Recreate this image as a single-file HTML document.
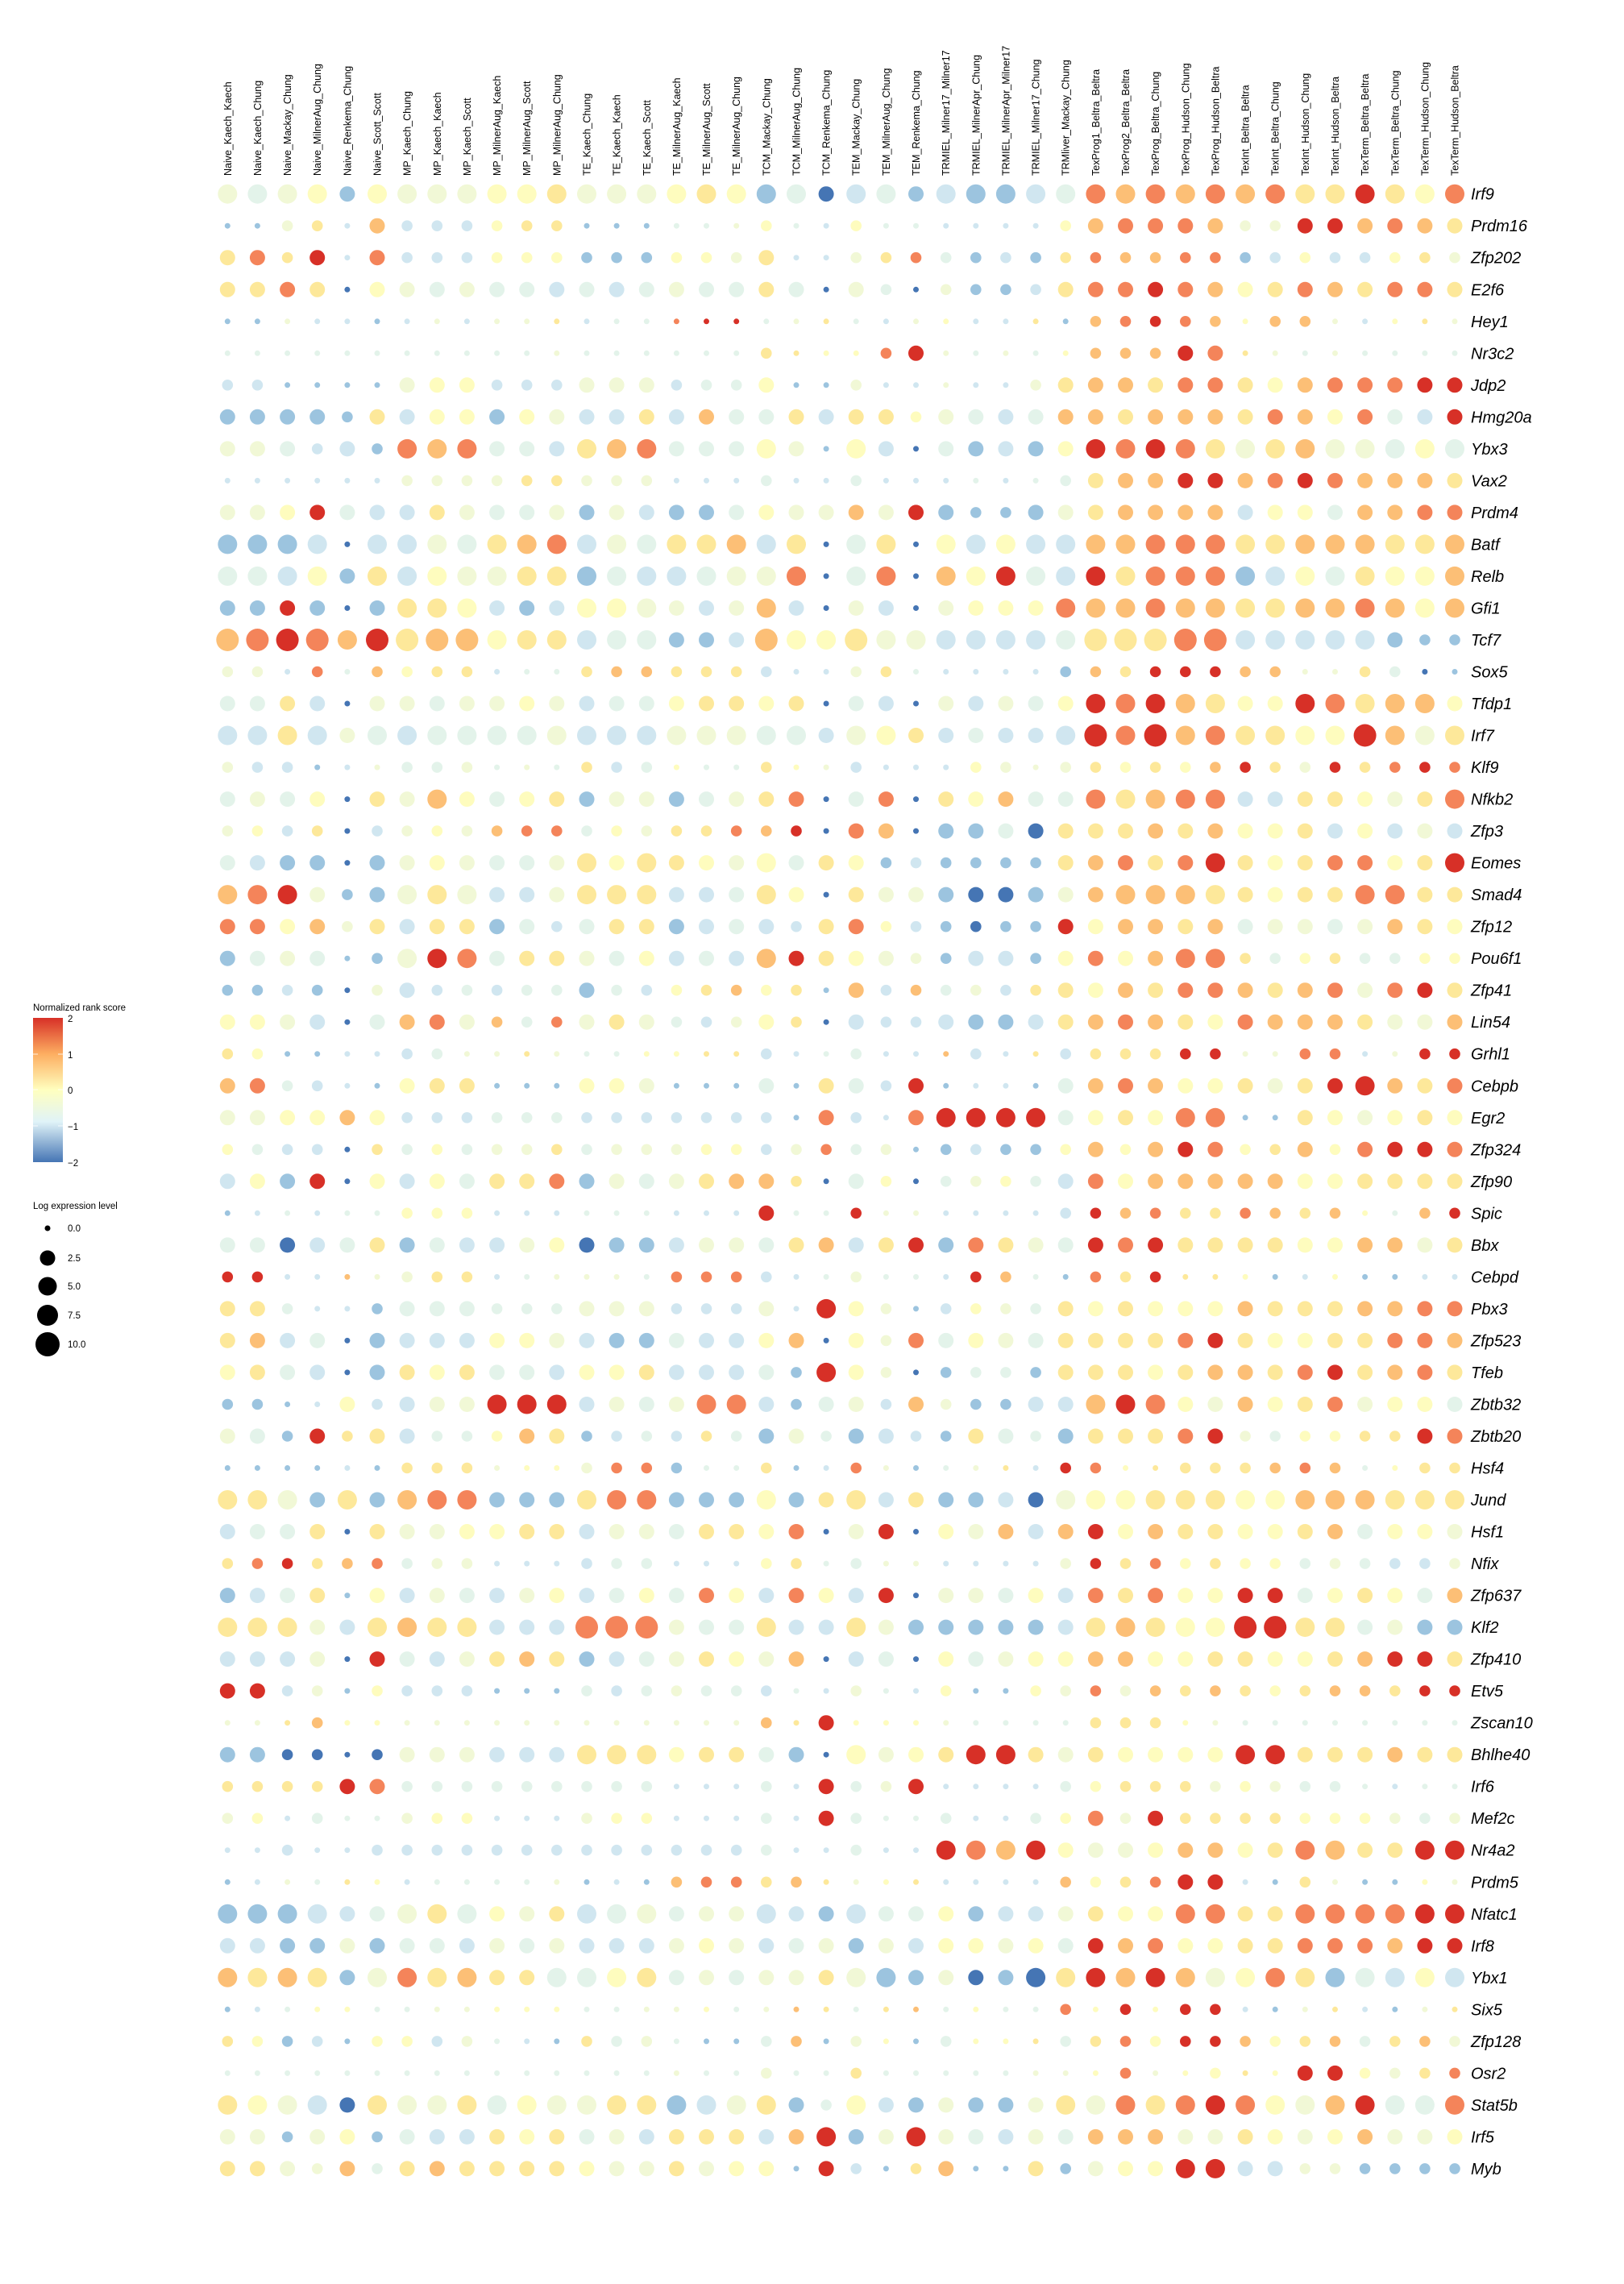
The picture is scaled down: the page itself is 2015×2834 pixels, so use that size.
<!DOCTYPE html>
<html><head><meta charset="utf-8"><style>
html,body{margin:0;padding:0;background:#fff;}
svg{display:block;}
</style></head><body>
<svg id="s" xmlns="http://www.w3.org/2000/svg" width="2015" height="2834" viewBox="0 0 2015 2834">
<rect width="2015" height="2834" fill="#fff"/>
<defs><linearGradient id="cg" x1="0" y1="0" x2="0" y2="1">
<stop offset="0" stop-color="#d73027"/><stop offset="0.25" stop-color="#fdae61"/><stop offset="0.5" stop-color="#ffffbf"/><stop offset="0.72" stop-color="#e0f3f8"/><stop offset="1" stop-color="#4575b4"/></linearGradient></defs>
<g font-family="Liberation Sans, Arial, sans-serif" fill="#000">
<text x="41" y="1254" font-size="11.5">Normalized rank score</text>
<rect x="41" y="1263" width="37" height="179" fill="url(#cg)"/>
<g stroke="#fff" stroke-width="1" opacity="0.8">
<line x1="41" x2="47" y1="1308" y2="1308"/><line x1="72" x2="78" y1="1308" y2="1308"/>
<line x1="41" x2="47" y1="1352" y2="1352"/><line x1="72" x2="78" y1="1352" y2="1352"/>
<line x1="41" x2="47" y1="1397" y2="1397"/><line x1="72" x2="78" y1="1397" y2="1397"/>
</g>
<g font-size="11.5">
<text x="84" y="1268">2</text><text x="84" y="1313">1</text><text x="84" y="1357">0</text><text x="84" y="1402">−1</text><text x="84" y="1447">−2</text>
<text x="41" y="1500">Log expression level</text>
<circle cx="59" cy="1524" r="3.5"/><text x="84" y="1528">0.0</text>
<circle cx="59" cy="1561" r="9.5"/><text x="84" y="1565">2.5</text>
<circle cx="59" cy="1596" r="11.5"/><text x="84" y="1600">5.0</text>
<circle cx="59" cy="1632" r="13"/><text x="84" y="1636">7.5</text>
<circle cx="59" cy="1668" r="15"/><text x="84" y="1672">10.0</text>
</g>
<g id="cols" font-size="12.5"></g>
<g id="dots"></g>
<g id="genes" font-size="20" font-style="italic"></g>
</g>
</svg>
<script>
var cols=["Naive_Kaech_Kaech","Naive_Kaech_Chung","Naive_Mackay_Chung","Naive_MilnerAug_Chung","Naive_Renkema_Chung","Naive_Scott_Scott","MP_Kaech_Chung","MP_Kaech_Kaech","MP_Kaech_Scott","MP_MilnerAug_Kaech","MP_MilnerAug_Scott","MP_MilnerAug_Chung","TE_Kaech_Chung","TE_Kaech_Kaech","TE_Kaech_Scott","TE_MilnerAug_Kaech","TE_MilnerAug_Scott","TE_MilnerAug_Chung","TCM_Mackay_Chung","TCM_MilnerAug_Chung","TCM_Renkema_Chung","TEM_Mackay_Chung","TEM_MilnerAug_Chung","TEM_Renkema_Chung","TRMIEL_Milner17_Milner17","TRMIEL_MilnerApr_Chung","TRMIEL_MilnerApr_Milner17","TRMIEL_Milner17_Chung","TRMliver_Mackay_Chung","TexProg1_Beltra_Beltra","TexProg2_Beltra_Beltra","TexProg_Beltra_Chung","TexProg_Hudson_Chung","TexProg_Hudson_Beltra","TexInt_Beltra_Beltra","TexInt_Beltra_Chung","TexInt_Hudson_Chung","TexInt_Hudson_Beltra","TexTerm_Beltra_Beltra","TexTerm_Beltra_Chung","TexTerm_Hudson_Chung","TexTerm_Hudson_Beltra"];
var genes=["Irf9","Prdm16","Zfp202","E2f6","Hey1","Nr3c2","Jdp2","Hmg20a","Ybx3","Vax2","Prdm4","Batf","Relb","Gfi1","Tcf7","Sox5","Tfdp1","Irf7","Klf9","Nfkb2","Zfp3","Eomes","Smad4","Zfp12","Pou6f1","Zfp41","Lin54","Grhl1","Cebpb","Egr2","Zfp324","Zfp90","Spic","Bbx","Cebpd","Pbx3","Zfp523","Tfeb","Zbtb32","Zbtb20","Hsf4","Jund","Hsf1","Nfix","Zfp637","Klf2","Zfp410","Etv5","Zscan10","Bhlhe40","Irf6","Mef2c","Nr4a2","Prdm5","Nfatc1","Irf8","Ybx1","Six5","Zfp128","Osr2","Stat5b","Irf5","Myb"];
var D=[
"w4 g4 w4 y4 b3 y4 w4 w4 w4 y4 y4 Y4 w4 w4 w4 y4 Y4 y4 b4 g4 B3 c4 g4 b3 c4 b4 b4 c4 g4 O4 o4 O4 o4 O4 o4 O4 Y4 Y4 R4 Y4 y4 O4",
"b1 b1 w2 Y2 c1 o3 c2 c2 c2 y2 Y2 Y2 b1 b1 b1 g1 g1 w1 y2 g1 c1 y2 g1 g1 c1 c1 c1 c1 y2 o3 O3 O3 O3 o3 w2 w2 R3 R3 o3 O3 o3 Y3",
"Y3 O3 Y2 R3 c1 O3 c2 c2 c2 y2 y2 y2 b2 b2 b2 y2 y2 w2 Y3 c1 c1 w2 Y2 O2 g2 b2 c2 b2 Y2 O2 o2 o2 O2 O2 b2 c2 y2 c2 c2 y2 Y2 w2",
"Y3 Y3 O3 Y3 B1 y3 w3 g3 w3 g3 g3 c3 g3 c3 g3 w3 g3 g3 Y3 g3 B1 w3 g2 B1 w2 b2 b2 c2 Y3 O3 O3 R3 O3 o3 y3 Y3 O3 o3 Y3 O3 O3 Y3",
"b1 b1 w1 c1 c1 b1 c1 w1 c1 w1 w1 Y1 c1 g1 g1 O1 R1 R1 g1 w1 Y1 g1 c1 w1 y1 c1 c1 Y1 b1 o2 O2 R2 O2 o2 y1 o2 o2 w1 c1 y1 Y1 w1",
"g1 g1 g1 g1 g1 g1 g1 g1 g1 g1 g1 w1 g1 g1 g1 g1 g1 g1 Y2 Y1 y1 y1 O2 R3 w1 g1 w1 g1 y1 o2 o2 o2 R3 O3 Y1 w1 g1 w1 g1 g1 g1 g1",
"c2 c2 b1 b1 b1 b1 w3 y3 y3 c2 c2 c2 w3 w3 w3 c2 g2 g2 y3 b1 b1 w2 c1 c1 w1 c1 c1 w2 Y3 o3 o3 Y3 O3 O3 Y3 y3 o3 O3 O3 O3 R3 R3",
"b3 b3 b3 b3 b2 Y3 c3 y3 y3 b3 y3 w3 c3 c3 Y3 c3 o3 g3 g3 Y3 c3 Y3 Y3 y2 w3 g3 c3 g3 o3 o3 Y3 o3 o3 o3 Y3 O3 o3 y3 O3 g3 c3 R3",
"w3 w3 g3 c2 c3 b2 O4 o4 O4 g3 g3 c3 Y4 o4 O4 g3 g3 g3 y4 w3 b1 y4 c3 B1 g3 b3 c3 b3 y3 R4 O4 R4 O4 Y4 w4 Y4 o4 w4 w4 g4 y4 g4",
"c1 c1 c1 c1 c1 c1 w2 w2 w2 w2 Y2 Y2 w2 w2 w2 c1 c1 c1 g2 c1 c1 g2 c1 c1 c1 g1 c1 g1 g2 Y3 o3 o3 R3 R3 o3 O3 R3 O3 o3 o3 o3 Y3",
"w3 w3 y3 R3 g3 c3 c3 Y3 w3 g3 g3 w3 b3 w3 c3 b3 b3 g3 y3 w3 w3 o3 w3 R3 b3 b2 b2 b3 w3 Y3 o3 o3 o3 o3 c3 y3 y3 g3 o3 o3 O3 O3",
"b4 b4 b4 c4 B1 c4 c4 w4 g4 Y4 o4 O4 c4 w4 g4 Y4 Y4 o4 c4 Y4 B1 g4 Y4 B1 y4 c4 y4 c4 c4 o4 o4 O4 O4 O4 Y4 Y4 o4 o4 o4 Y4 Y4 o4",
"g4 g4 c4 y4 b3 Y4 c4 y4 w4 w4 Y4 Y4 b4 g4 c4 c4 g4 w4 w4 O4 B1 g4 O4 B1 o4 y4 R4 g4 c4 R4 Y4 O4 O4 O4 b4 c4 y4 g4 Y4 y4 y4 o4",
"b3 b3 R3 b3 B1 b3 Y4 Y4 y4 c3 b3 c3 y4 y4 w4 w3 c3 w3 o4 c3 B1 w3 c3 B1 w3 y3 y3 y3 O4 o4 o4 O4 o4 o4 Y4 Y4 o4 o4 O4 o4 y4 o4",
"o5 O5 R5 O5 o4 R5 Y5 o5 o5 y4 Y4 Y4 c4 g4 g4 b3 b3 c3 o5 y4 y4 Y5 w4 w4 c4 c4 c4 c4 g4 Y5 Y5 Y5 O5 O5 c4 c4 c4 c4 c4 b3 b2 b2",
"w2 w2 c1 O2 g1 o2 y2 Y2 Y2 c1 g1 g1 Y2 o2 o2 Y2 Y2 Y2 c2 c1 c1 w2 Y2 g1 c1 c1 c1 c1 b2 o2 Y2 R2 R2 R2 o2 o2 w1 w1 Y2 g2 B1 b1",
"g3 g3 Y3 c3 B1 w3 w3 g3 w3 w3 y3 w3 c3 g3 g3 y3 Y3 Y3 y3 Y3 B1 g3 c3 B1 w3 c3 w3 g3 y3 R4 O4 R4 o4 Y4 y3 y3 R4 O4 Y4 o4 o4 y3",
"c4 c4 Y4 c4 w3 g4 c4 g4 g4 g4 g4 w4 c4 c4 c4 w4 w4 w4 g4 g4 c3 w4 y4 Y3 c3 g3 c3 c3 c4 R5 O4 R5 o4 O4 Y4 Y4 y4 y4 R5 o4 w4 Y4",
"w2 c2 c2 b1 c1 w1 g2 g2 w2 g1 w1 g1 Y2 c2 g2 y1 g1 g1 Y2 y1 w1 c2 c1 c1 c1 y2 w2 w1 w2 Y2 y2 Y2 y2 o2 R2 Y2 w2 R2 Y2 O2 R2 O2",
"g3 w3 g3 y3 B1 Y3 w3 o4 y3 g3 y3 Y3 b3 w3 w3 b3 g3 w3 Y3 O3 B1 g3 O3 B1 Y3 y3 o3 g3 g3 O4 Y4 o4 O4 O4 c3 c3 Y3 Y3 y3 w3 Y3 O4",
"w2 y2 c2 Y2 B1 c2 w2 y2 w2 o2 O2 O2 g2 y2 w2 Y2 Y2 O2 o2 R2 B1 O3 o3 B1 b3 b3 g3 B3 Y3 Y3 Y3 o3 Y3 o3 y3 y3 Y3 c3 y3 c3 w3 c3",
"g3 c3 b3 b3 B1 b3 w3 y3 w3 g3 g3 w3 Y4 y3 Y4 Y3 y3 w3 y4 g3 Y3 y3 b2 c2 b2 b2 b2 b2 Y3 o3 O3 Y3 O3 R4 Y3 y3 Y3 O3 O3 y3 Y3 R4",
"o4 O4 R4 w3 b2 b3 w4 Y4 w4 c3 c3 w3 Y4 Y4 Y4 c3 c3 g3 Y4 y3 B1 Y3 w3 w3 b3 B3 B3 b3 w3 o3 o4 o4 o4 Y4 Y3 y3 Y3 Y3 O4 O4 Y3 Y3",
"O3 O3 y3 o3 w2 Y3 c3 Y3 Y3 b3 g3 c2 g3 Y3 Y3 b3 c3 g3 c3 c2 Y3 O3 y2 c2 b2 B2 b2 b2 R3 y3 o3 o3 Y3 o3 g3 w3 w3 g3 w3 o3 Y3 y3",
"b3 g3 w3 g3 b1 b2 w4 R4 O4 g3 Y3 Y3 w3 g3 y3 c3 g3 c3 o4 R3 Y3 y3 w3 w2 b2 c3 c3 b2 y3 O3 y3 o3 O4 O4 Y2 g2 y2 Y2 g2 g2 y2 y2",
"b2 b2 c2 b2 B1 w2 c3 c2 g2 c2 g2 g2 b3 g2 c2 y2 Y2 o2 y2 Y2 b1 o3 c2 o2 g2 w2 c2 Y2 Y3 y3 o3 Y3 O3 O3 o3 Y3 o3 O3 w3 O3 R3 Y3",
"y3 y3 w3 c3 B1 g3 o3 O3 w3 o2 g2 O2 w3 Y3 w3 g2 c2 w2 y3 Y2 B1 c3 c2 c2 c3 b3 b3 c3 Y3 o3 O3 o3 Y3 y3 O3 o3 o3 o3 Y3 w3 w3 o3",
"Y2 y2 b1 b1 c1 c1 c2 g2 w1 w1 Y1 w1 g1 g1 y1 y1 Y1 Y1 c2 c1 g1 g2 c1 c1 o1 c2 c1 Y1 c2 Y2 Y2 Y2 R2 R2 w1 w1 O2 O2 c1 w1 R2 R2",
"o3 O3 g2 c2 c1 b1 y3 Y3 Y3 b1 b1 b1 y3 y3 w3 b1 b1 b1 g3 b1 Y3 g3 c2 R3 b1 c1 c1 b1 g3 o3 O3 o3 y3 y3 Y3 w3 Y3 R3 R4 o3 Y3 O3",
"w3 w3 y3 y3 o3 y3 c2 c2 c2 g2 g2 g2 c2 c2 c2 c2 c2 c2 c2 b1 O3 c2 c1 O3 R4 R4 R4 R4 g3 y3 Y3 y3 O4 O4 b1 b1 Y3 y3 w3 y3 Y3 y3",
"y2 g2 c2 c2 B1 Y2 g2 y2 g2 w2 w2 Y2 g2 w2 w2 w2 y2 y2 c2 w2 O2 g2 w2 b1 b2 c2 b2 b2 y2 o3 y2 o3 R3 O3 y2 Y2 o3 y2 O3 R3 R3 O3",
"c3 y3 b3 R3 B1 y3 c3 y3 g3 Y3 Y3 O3 b3 w3 g3 w3 Y3 o3 o3 Y2 B1 g3 y2 B1 g2 w2 y2 g2 c3 O3 y3 o3 o3 o3 o3 o3 y3 y3 Y3 Y3 Y3 Y3",
"b1 c1 g1 c1 g1 g1 y2 y2 y2 c1 c1 c1 g1 g1 g1 c1 c1 c1 R3 g1 g1 R2 w1 w1 c1 c1 c1 c1 c2 R2 o2 O2 Y2 Y2 O2 o2 Y2 o2 y1 g1 o2 R2",
"g3 g3 B3 c3 g3 Y3 b3 g3 c3 c3 w3 y3 B3 b3 b3 c3 w3 w3 g3 Y3 o3 c3 Y3 R3 b3 O3 Y3 w3 g3 R3 O3 R3 Y3 Y3 Y3 Y3 y3 y3 o3 o3 w3 Y3",
"R2 R2 c1 c1 o1 w1 w2 Y2 Y2 c1 g1 w1 w1 w1 g1 O2 O2 O2 c2 c1 g1 w2 g1 g1 c1 R2 o2 g1 b1 O2 Y2 R2 Y1 Y1 y1 b1 c1 y1 b1 b1 c1 c1",
"Y3 Y3 g2 c1 c1 b2 g3 g3 g3 g2 g2 g2 w3 w3 w3 c2 c2 c2 w3 c1 R4 y3 w2 b1 c2 y2 w2 g2 Y3 y3 Y3 y3 y3 y3 o3 Y3 Y3 Y3 o3 o3 O3 O3",
"Y3 o3 c3 g3 B1 b3 c3 c3 c3 y3 y3 w3 c3 b3 b3 g3 c3 c3 y3 o3 B1 y3 w2 O3 g3 y3 w3 g3 Y3 Y3 Y3 Y3 O3 R3 Y3 y3 y3 Y3 Y3 O3 O3 o3",
"y3 Y3 g3 c3 B1 b3 Y3 y3 Y3 g3 g3 c3 y3 y3 Y3 c3 c3 c3 g3 b2 R4 y3 w2 B1 b2 g2 g2 b2 Y3 Y3 Y3 y3 Y3 o3 o3 Y3 O3 R3 Y3 o3 O3 Y3",
"b2 b2 b1 c1 y3 c2 c3 w3 w3 R4 R4 R4 c3 w3 g3 w3 O4 O4 c3 b2 g3 w3 c2 o3 w2 b2 b2 c3 c3 o4 R4 O4 y3 w3 o3 y3 Y3 O3 w3 y3 y3 g3",
"w3 g3 b2 R3 Y2 Y3 c3 g2 g2 y2 o3 Y3 b2 c2 g2 c2 Y2 g2 b3 w3 g2 b3 c3 c2 b2 Y3 g3 g2 b3 Y3 Y3 Y3 O3 R3 w2 g2 y2 y2 Y2 Y2 R3 O3",
"b1 b1 b1 b1 c1 b1 Y2 Y2 Y2 w1 y1 y1 w2 O2 O2 b2 g1 g1 Y2 b1 c1 O2 w1 b1 g1 w1 Y1 c1 R2 O2 y1 Y1 Y2 Y2 Y2 o2 O2 o2 g1 y1 Y2 Y2",
"Y4 Y4 w4 b3 Y4 b3 o4 O4 O4 b3 b3 b3 Y4 O4 O4 b3 b3 b3 y4 b3 Y3 Y4 c3 Y3 b3 b3 c3 B3 w4 y4 y4 Y4 Y4 Y4 y4 y4 o4 o4 o4 Y4 Y4 Y4",
"c3 g3 g3 Y3 B1 Y3 w3 w3 y3 y3 Y3 Y3 c3 w3 w3 g3 Y3 Y3 y3 O3 B1 w3 R3 B1 y3 w3 o3 c3 o3 R3 y3 o3 Y3 Y3 y3 y3 Y3 o3 g3 y3 y3 w3",
"Y2 O2 R2 Y2 o2 O2 g2 w2 w2 c1 c1 c1 c2 g2 g2 c1 c1 c1 y2 Y2 g1 g2 w1 w1 c1 c1 c1 c1 w2 R2 Y2 O2 y2 Y2 y2 y2 g2 w2 g2 c2 c2 w2",
"b3 c3 g3 Y3 b1 y3 c3 w3 g3 c3 w3 y3 c3 g3 y3 g3 O3 y3 c3 O3 y3 c3 R3 B1 w3 w3 g3 y3 c3 O3 Y3 O3 y3 y3 R3 R3 g3 y3 Y3 y3 g3 o3",
"Y4 Y4 Y4 w3 c3 Y4 o4 Y4 Y4 c3 c3 c3 O5 O5 O5 w3 g3 g3 Y4 c3 c3 Y4 w3 b3 b3 b3 b3 b3 c3 Y4 o4 Y4 y4 y4 R5 R5 Y4 Y4 g3 w3 b3 b3",
"c3 c3 c3 w3 B1 R3 g3 c3 w3 Y3 o3 Y3 b3 c3 g3 w3 Y3 y3 w3 o3 B1 c3 g3 B1 y3 g3 w3 y3 y3 o3 o3 y3 y3 Y3 Y3 y3 y3 Y3 o3 R3 R3 Y3",
"R3 R3 c2 w2 b1 y2 c2 c2 c2 b1 b1 b1 g2 c2 g2 w2 g2 g2 c2 g1 c1 w2 g1 c1 y2 b1 b1 y2 w2 O2 w2 o2 Y2 o2 Y2 y2 Y2 o2 o2 Y2 R2 R2",
"w1 w1 Y1 o2 y1 y1 w1 w1 w1 w1 w1 w1 w1 w1 w1 w1 w1 w1 o2 Y1 R3 y1 y1 y1 w1 g1 g1 g1 g1 Y2 Y2 Y2 y1 w1 g1 g1 g1 g1 g1 g1 g1 g1",
"b3 b3 B2 B2 B1 B2 w3 w3 w3 c3 c3 c3 Y4 Y4 Y4 y3 Y3 Y3 g3 b3 B1 y4 w3 y3 Y3 R4 R4 Y3 w3 Y3 y3 y3 y3 y3 R4 R4 Y3 Y3 Y3 o3 Y3 Y3",
"Y2 Y2 Y2 Y2 R3 O3 g2 g2 g2 g2 g2 g2 g2 g2 g2 c1 c1 c1 g2 c1 R3 g2 w2 R3 c1 c1 c1 c1 g2 y2 Y2 Y2 Y2 w2 y2 w2 g2 g2 g1 c1 g1 g1",
"w2 y2 c1 g2 g1 g1 w2 y2 y2 c1 c1 c1 w2 y2 y2 c1 c1 c1 g2 c1 R3 g2 g1 g1 g2 c1 c1 g2 y2 O3 w2 R3 Y2 Y2 Y2 Y2 y2 y2 y2 w2 g2 w2",
"c1 c1 c2 c1 c1 c2 c2 c2 c2 c2 c2 c2 c2 c2 c2 c2 c2 c2 g2 c1 c1 g2 c1 c1 R4 O4 o4 R4 y3 w3 w3 y3 o3 o3 y3 Y3 O4 o4 Y3 Y3 R4 R4",
"b1 c1 w1 g1 Y1 y1 c1 g1 g1 g1 g1 w1 b1 c1 b1 o2 O2 O2 Y2 o2 Y1 w1 y1 Y1 c1 c1 c1 c1 o2 y2 Y2 O2 R3 R3 c1 b1 Y2 w1 b1 b1 y1 w1",
"b4 b4 b4 c4 c3 g3 w4 Y4 g4 y3 w3 Y3 c4 g4 w4 g3 w3 w3 c4 c3 b3 c4 g3 g3 y3 b3 c3 c3 w3 Y3 y3 y3 O4 O4 Y3 Y3 O4 O4 O4 O4 R4 R4",
"c3 c3 b3 b3 w3 b3 g3 g3 c3 w3 g3 w3 c3 c3 c3 w3 y3 w3 c3 g3 w3 b3 w3 c3 y3 y3 w3 y3 g3 R3 o3 O3 y3 y3 Y3 Y3 O3 O3 O3 o3 R3 R3",
"o4 Y4 o4 Y4 b3 w4 O4 Y4 o4 Y3 Y3 g4 g4 y4 Y4 g3 w3 g3 w3 w3 Y3 w4 b4 b3 w3 B3 b3 B4 Y4 R4 o4 R4 o4 w4 y4 O4 Y4 b4 g4 c4 y4 c4",
"b1 c1 g1 y1 y1 g1 g1 w1 w1 y1 y1 y1 g1 g1 w1 w1 y1 g1 w1 o1 Y1 g1 Y1 o1 g1 y1 g1 g1 O2 y1 R2 y1 R2 R2 c1 b1 w1 Y1 c1 b1 w1 Y1",
"Y2 y2 b2 c2 b1 y2 y2 c2 w2 g1 c1 b1 Y2 g2 w2 g1 b1 b1 g2 o2 b1 w2 y1 b1 g2 y1 y1 Y1 g2 Y2 O2 y2 R2 R2 o2 y2 Y2 o2 g2 Y2 o2 w2",
"g1 g1 g1 g1 g1 g1 g1 g1 g1 g1 g1 g1 g1 g1 g1 w1 g1 g1 w2 g1 g1 Y2 g1 g1 g1 g1 g1 w1 w1 y1 O2 w1 y1 y2 Y1 y1 R3 R3 y2 w2 Y2 O2",
"Y4 y4 w4 c4 B3 Y4 w4 w4 Y4 g4 y4 w4 w4 Y4 Y4 b4 c4 w4 Y4 b3 g2 y4 c3 b3 w3 b3 b3 w3 Y4 w4 O4 Y4 O4 R4 O4 y4 w4 o4 R4 g4 g4 O4",
"w3 w3 b2 w3 y3 b2 g3 c3 c3 Y3 y3 Y3 g3 w3 c3 Y3 Y3 Y3 c3 o3 R4 b3 w3 R4 w3 g3 c3 w3 g3 o3 o3 o3 w3 w3 Y3 y3 w3 y3 o3 w3 w3 y3",
"Y3 Y3 w3 w2 o3 g2 Y3 o3 Y3 Y3 Y3 Y3 y3 w3 w3 Y3 w3 y3 y3 b1 R3 c2 b1 Y2 o3 b1 b1 Y3 b2 w3 y3 y3 R4 R4 c3 c3 w2 w2 b2 b2 b2 b2"
];
var C={B:"#4575b4",b:"#9cc4df",c:"#d0e6f0",g:"#e3f3ea",w:"#f1f8d6",y:"#fefcbe",Y:"#fde89a",o:"#fcbf76",O:"#f4845a",R:"#d73027"};
var R={1:3.5,2:6.8,3:9.5,4:12,5:14};
var NS="http://www.w3.org/2000/svg";
var x0=282.3,dx=37.14,y0=240.7,dy=39.52;
var gc=document.getElementById("cols"),gd=document.getElementById("dots"),gg=document.getElementById("genes");
cols.forEach(function(c,i){var t=document.createElementNS(NS,"text");var x=x0+i*dx+4.5;t.setAttribute("transform","translate("+x.toFixed(1)+",218) rotate(-90)");t.textContent=c;gc.appendChild(t);});
var h="";
D.forEach(function(row,r){var tk=row.split(" ");var y=y0+r*dy;tk.forEach(function(s,i){var col=C[s[0]]||"#eee";var rad=R[s[1]]||8;h+='<circle cx="'+(x0+i*dx).toFixed(1)+'" cy="'+y.toFixed(1)+'" r="'+rad+'" fill="'+col+'"/>';});});
gd.innerHTML=h;
genes.forEach(function(g,r){var t=document.createElementNS(NS,"text");t.setAttribute("x","1825");t.setAttribute("y",(y0+r*dy+7).toFixed(1));t.textContent=g;gg.appendChild(t);});
</script>
</body></html>
